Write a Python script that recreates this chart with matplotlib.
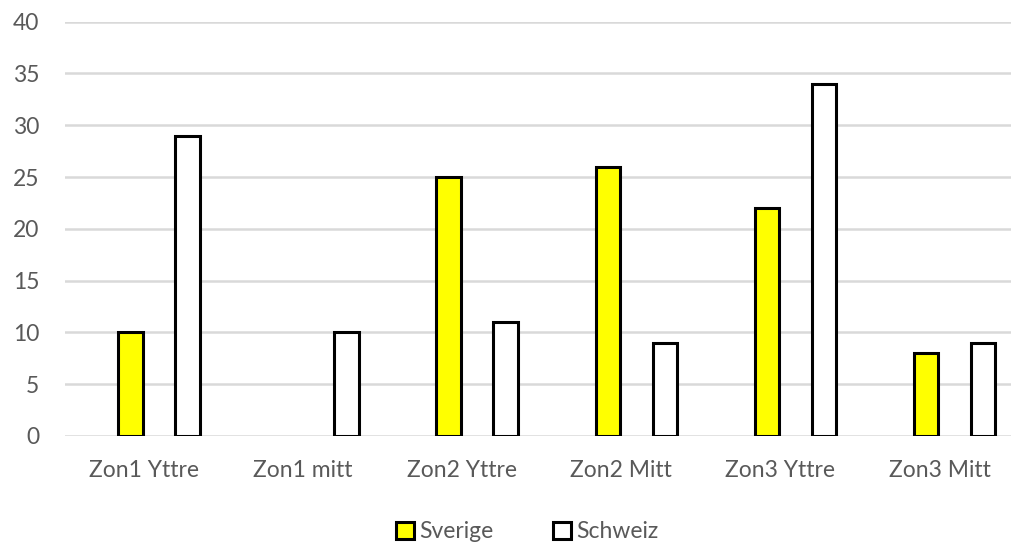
import numpy as np
import matplotlib
matplotlib.use("Agg")
import matplotlib.pyplot as plt
from matplotlib.patches import Patch

plt.rcParams['font.family'] = ['Lato', 'DejaVu Sans']

# Zoner och antal per land
zoner = ["Zon1 Yttre", "Zon1 mitt", "Zon2 Yttre", "Zon2 Mitt", "Zon3 Yttre", "Zon3 Mitt"]
sverige = [10, np.nan, 25, 26, 22, 8]
schweiz = [29, 10, 11, 9, 34, 9]

textfarg = "#595959"
gridfarg = "#d9d9d9"

fig = plt.figure(figsize=(10.12, 5.46), dpi=100)
ax = fig.add_axes([64.5 / 1012, 110 / 546, 954.6 / 1012, 414.3 / 546])

x = np.arange(len(zoner))
bredd = 0.154
ax.bar(x - 0.085, sverige, bredd, color="#ffff00", edgecolor="black", linewidth=2.2, zorder=3)
ax.bar(x + 0.273, schweiz, bredd, color="white", edgecolor="black", linewidth=2.2, zorder=3)

ax.set_xlim(-0.5, len(zoner) - 0.5)
ax.set_ylim(0, 40)
ax.set_yticks(range(0, 41, 5))
ax.set_xticks(x)
ax.set_xticklabels(zoner)
ax.yaxis.grid(True, color=gridfarg, linewidth=1.8, zorder=0)
ax.set_axisbelow(True)
for s in ax.spines.values():
    s.set_visible(False)
ax.tick_params(axis="y", length=0, pad=18, labelsize=16.5, labelcolor=textfarg)
ax.tick_params(axis="x", length=0, pad=17, labelsize=16.5, labelcolor=textfarg)

handles = [Patch(facecolor="#ffff00", edgecolor="black", linewidth=2.2, label="Sverige"),
           Patch(facecolor="white", edgecolor="black", linewidth=2.2, label="Schweiz")]
fig.legend(handles=handles, loc="center", bbox_to_anchor=(527 / 1012, 14 / 546), ncol=2,
           frameon=False, fontsize=16.5, labelcolor=textfarg, handlelength=0.8,
           handleheight=0.8, handletextpad=0.2, columnspacing=2.6)

fig.savefig("out.png", dpi=100)
